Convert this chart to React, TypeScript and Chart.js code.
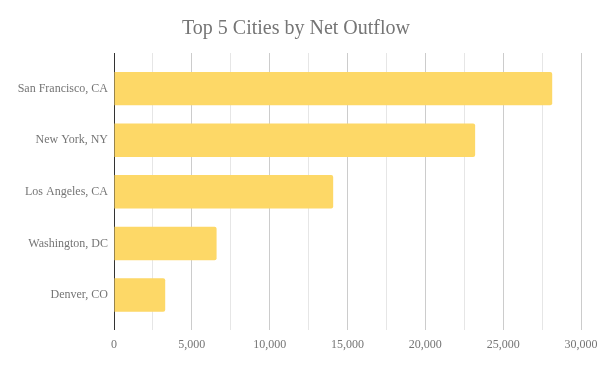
import React, { useEffect, useRef } from "react";
import { Chart, registerables } from "chart.js";

Chart.register(...registerables);

const cities = ["San Francisco, CA", "New York, NY", "Los Angeles, CA", "Washington, DC", "Denver, CO"];
const netOutflow = [28150, 23200, 14080, 6590, 3290];
const xTicksMin = 0;
const xTicksMax = 30000;
const xStep = 2500;
const xLabelStep = 5000;
const titleText = "Top 5 Cities by Net Outflow";

const FONT = "Liberation Serif, Times New Roman, DejaVu Serif, serif";
const TEXT = "#757575";

export default function App() {
  const ref = useRef<HTMLCanvasElement | null>(null);

  useEffect(() => {
    document.body.style.margin = "0";
    const canvas = ref.current;
    if (!canvas) return;
    Chart.defaults.font.family = FONT;
    const chart = new Chart(canvas, {
      type: "bar",
      data: {
        datasets: [
          {
            data: cities.map((_, i) => ({ x: netOutflow[i], y: i })),
            backgroundColor: "#FDD867",
            borderRadius: 2,
            borderSkipped: "start",
            categoryPercentage: 1,
            barPercentage: 0.648,
          },
        ],
      },
      options: {
        animation: false,
        responsive: false,
        indexAxis: "y",
        layout: { padding: { left: 0, right: 8, top: 0, bottom: 11 } },
        plugins: {
          legend: { display: false },
          tooltip: { enabled: false },
          title: {
            display: true,
            text: titleText,
            color: TEXT,
            font: { family: FONT, size: 20, weight: "normal" },
            padding: { top: 17, bottom: 12 },
          },
        },
        scales: {
          x: {
            type: "linear",
            min: xTicksMin,
            max: xTicksMax,
            border: { display: false },
            afterFit: (scale: any) => {
              scale.paddingRight = 19;
              scale.paddingLeft = 0;
            },
            grid: {
              drawTicks: false,
              color: (ctx: any) => {
                const v = ctx.tick ? ctx.tick.value : 0;
                if (v === 0) return "#333333";
                return v % xLabelStep === 0 ? "#cccccc" : "#e6e6e6";
              },
            },
            ticks: {
              stepSize: xStep,
              autoSkip: false,
              maxRotation: 0,
              padding: 8,
              color: TEXT,
              font: { family: FONT, size: 12 },
              callback: (v: any) => (Number(v) % xLabelStep === 0 ? Number(v).toLocaleString("en-US") : ""),
            },
          },
          y: {
            type: "linear",
            reverse: true,
            offset: false,
            min: -0.69,
            max: 4.67,
            bounds: "data",
            afterBuildTicks: (scale: any) => {
              scale.ticks = cities.map((_, i) => ({ value: i }));
            },
            afterFit: (scale: any) => {
              scale.width = 114;
            },
            border: { display: true, color: "#333333", width: 1 },
            grid: { display: false, drawTicks: false, offset: false },
            ticks: {
              autoSkip: false,
              padding: 6,
              color: TEXT,
              font: { family: FONT, size: 12 },
              callback: (v: any) => cities[Number(v)] ?? "",
            },
          },
        },
      },
    } as any);
    return () => chart.destroy();
  }, []);

  return (
    <div style={{ width: 600, height: 371 }}>
      <canvas ref={ref} width={600} height={371} style={{ display: "block", width: 600, height: 371 }} />
    </div>
  );
}
